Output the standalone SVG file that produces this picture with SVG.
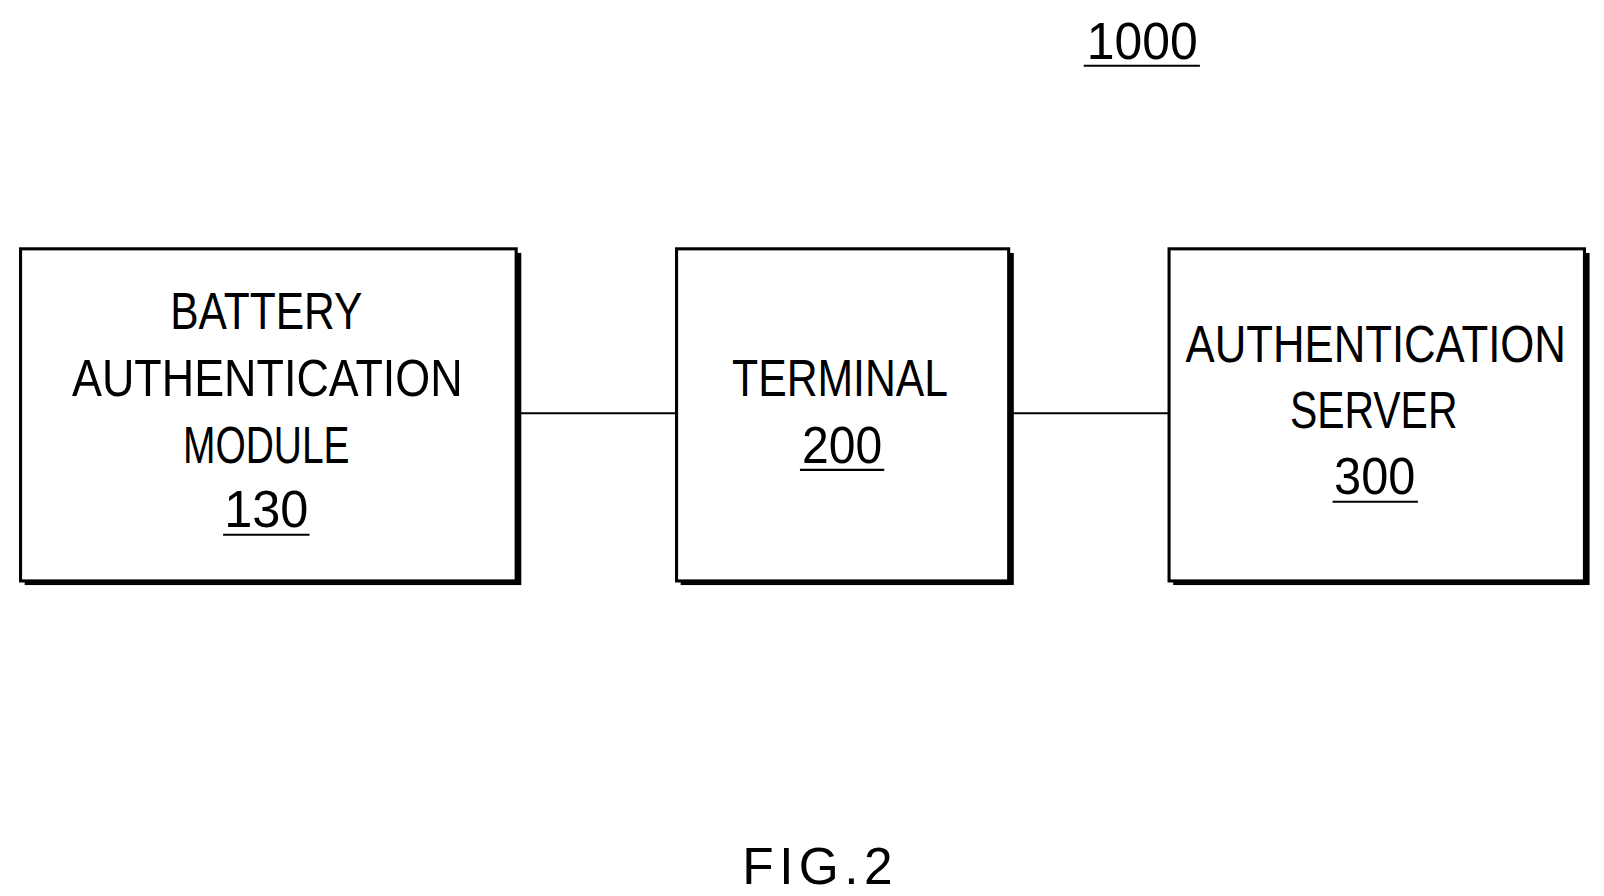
<svg xmlns="http://www.w3.org/2000/svg" width="1604" height="896" viewBox="0 0 1604 896">
<style>
.b{fill:#fff;stroke:#000;stroke-width:3}
.s{fill:#000}
text{font-family:"Liberation Sans",Arial,sans-serif;font-size:50px;fill:#000;text-anchor:middle}
.u{stroke:#000;stroke-width:2}
</style>
<rect width="1604" height="896" fill="#fff"/>
<g transform="scale(1.0282)">
<g id="label1000"><text x="1111" y="57" textLength="108" lengthAdjust="spacingAndGlyphs">1000</text><line class="u" x1="1054" y1="64" x2="1167" y2="64"/></g>
<g id="connectors">
<line class="u" x1="506" y1="402" x2="658" y2="402"/>
<line class="u" x1="985" y1="402" x2="1137" y2="402"/>
</g>
<g id="node130">
<rect class="s" x="24" y="246" width="483" height="323"/>
<rect class="b" x="20" y="242" width="482" height="323"/>
<text x="259" y="320" textLength="187" lengthAdjust="spacingAndGlyphs">BATTERY</text>
<text x="260" y="385" textLength="380" lengthAdjust="spacingAndGlyphs">AUTHENTICATION</text>
<text x="259" y="450" textLength="162" lengthAdjust="spacingAndGlyphs">MODULE</text>
<text x="259" y="513" textLength="82" lengthAdjust="spacingAndGlyphs">130</text>
<line class="u" x1="217" y1="520" x2="301" y2="520"/>
</g>
<g id="node200">
<rect class="s" x="662" y="246" width="324" height="323"/>
<rect class="b" x="658" y="242" width="323" height="323"/>
<text x="817" y="385" textLength="210" lengthAdjust="spacingAndGlyphs">TERMINAL</text>
<text x="819" y="450" textLength="78" lengthAdjust="spacingAndGlyphs">200</text>
<line class="u" x1="778" y1="457" x2="860" y2="457"/>
</g>
<g id="node300">
<rect class="s" x="1141" y="246" width="405" height="323"/>
<rect class="b" x="1137" y="242" width="404" height="323"/>
<text x="1338" y="352" textLength="370" lengthAdjust="spacingAndGlyphs">AUTHENTICATION</text>
<text x="1336" y="416" textLength="163" lengthAdjust="spacingAndGlyphs">SERVER</text>
<text x="1337" y="480" textLength="79" lengthAdjust="spacingAndGlyphs">300</text>
<line class="u" x1="1296" y1="488" x2="1379" y2="488"/>
</g>
<g id="caption"><text x="795" y="860" textLength="146" lengthAdjust="spacing">FIG.2</text></g>
</g>
</svg>
